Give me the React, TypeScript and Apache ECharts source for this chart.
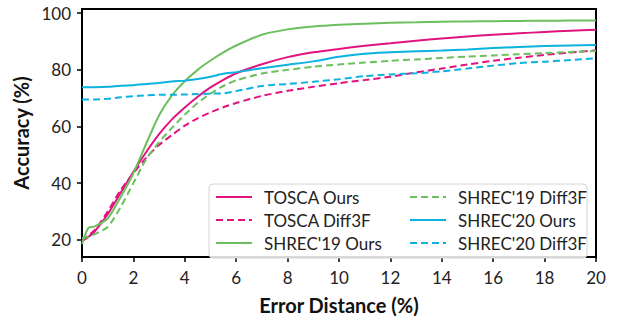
import React, { useEffect, useRef } from "react";
import * as echarts from "echarts";

const xs = [0, 0.25, 0.5, 1, 1.5, 2, 2.5, 3, 3.5, 4, 4.5, 5, 5.5, 6, 7, 8, 9, 10, 11, 12, 13, 14, 15, 16, 17, 18, 19, 20];

const toscaOurs = [19.5, 21, 23, 29, 36.5, 44, 51, 57.3, 62.5, 66.7, 70.5, 73.8, 76.5, 78.8, 82.0, 84.5, 86.2, 87.4, 88.5, 89.4, 90.3, 91.1, 91.8, 92.4, 92.9, 93.4, 93.8, 94.2];
const toscaDiff3F = [19.5, 21.5, 23.5, 30, 37.5, 43.5, 49, 53.5, 57, 60.3, 62.9, 65.0, 66.8, 68.3, 70.8, 72.6, 74.0, 75.3, 76.4, 77.6, 79.1, 80.5, 81.9, 83.2, 84.3, 85.3, 86.1, 86.9];
const shrec19Ours = [18.5, 24.2, 24.7, 27.5, 35, 43.5, 54, 64, 71, 76, 80, 83.3, 86.2, 88.6, 92.4, 94.3, 95.3, 95.9, 96.3, 96.6, 96.8, 97.0, 97.1, 97.2, 97.3, 97.35, 97.4, 97.45];
const shrec19Diff3F = [20.5, 21, 22, 24.5, 31.5, 40, 48.5, 54.5, 59.5, 64.2, 68.3, 71.6, 74.3, 76.3, 78.7, 80.0, 81.1, 81.9, 82.6, 83.2, 83.7, 84.2, 84.7, 85.1, 85.5, 85.9, 86.3, 86.7];
const shrec20Ours = [73.9, 73.9, 73.9, 74.0, 74.4, 74.6, 75.0, 75.4, 75.9, 76.2, 76.8, 77.6, 78.6, 79.2, 80.6, 81.8, 83.0, 84.6, 85.7, 86.2, 86.6, 86.8, 87.2, 87.7, 88.1, 88.4, 88.6, 88.8];
const shrec20Diff3F = [69.5, 69.5, 69.5, 69.8, 70.3, 70.7, 71.0, 71.2, 71.2, 71.3, 71.5, 71.6, 71.7, 72.5, 74.3, 75.0, 75.8, 76.7, 77.8, 78.4, 78.8, 79.5, 80.5, 81.5, 82.4, 82.9, 83.5, 84.1];

const yTicks = [20, 40, 60, 80, 100];

const MAGENTA = "#e0147f";
const GREEN = "#6cbf5e";
const CYAN = "#0cb2e0";
const FONT = "Lato";

const seriesDefs = [
  { name: "TOSCA Ours", values: toscaOurs, color: MAGENTA, type: "solid" },
  { name: "TOSCA Diff3F", values: toscaDiff3F, color: MAGENTA, type: "dashed" },
  { name: "SHREC'19 Ours", values: shrec19Ours, color: GREEN, type: "solid" },
  { name: "SHREC'19 Diff3F", values: shrec19Diff3F, color: GREEN, type: "dashed" },
  { name: "SHREC'20 Ours", values: shrec20Ours, color: CYAN, type: "solid" },
  { name: "SHREC'20 Diff3F", values: shrec20Diff3F, color: CYAN, type: "dashed" },
];

export default function App() {
  const ref = useRef<HTMLDivElement>(null);
  useEffect(() => {
    if (!ref.current) return;
    const chart = echarts.init(ref.current, null, { renderer: "svg" });
    const legendCommon = {
      orient: "vertical",
      padding: 0,
      itemWidth: 36,
      itemHeight: 14,
      itemGap: 5,
      selectedMode: false,
      itemStyle: { opacity: 0 },
      textStyle: { fontFamily: FONT, fontSize: 17, lineHeight: 18, color: "#222", padding: [0, 0, 0, 7] },
    };
    chart.setOption({
      animation: false,
      backgroundColor: "#fff",
      grid: {
        left: 82,
        right: 22,
        top: 9,
        bottom: 53,
        show: true,
        borderColor: "#000",
        borderWidth: 2,
      },
      xAxis: {
        type: "value",
        min: 0,
        max: 20,
        interval: 2,
        name: "Error Distance (%)",
        nameLocation: "middle",
        nameGap: 38,
        nameTextStyle: { fontFamily: FONT, fontSize: 20, fontWeight: "bold", color: "#111" },
        axisLine: { show: true, lineStyle: { color: "#000", width: 2 } },
        axisTick: { show: true, length: 5, lineStyle: { color: "#000", width: 1.5 } },
        axisLabel: { fontFamily: FONT, fontSize: 17, color: "#222", margin: 12 },
        splitLine: { show: false },
      },
      yAxis: {
        type: "value",
        min: 13.9,
        max: 101.5,
        name: "Accuracy (%)",
        nameLocation: "middle",
        nameGap: 38,
        nameTextStyle: { fontFamily: FONT, fontSize: 20, fontWeight: "bold", color: "#111" },
        axisLine: { show: true, lineStyle: { color: "#000", width: 2 } },
        axisTick: { show: true, length: 5, customValues: yTicks, lineStyle: { color: "#000", width: 1.5 } },
        axisLabel: { fontFamily: FONT, fontSize: 17, color: "#222", margin: 11, customValues: yTicks },
        splitLine: { show: false },
      },
      legend: [
        { ...legendCommon, left: 215, top: 188, data: seriesDefs.slice(0, 3).map((s) => s.name) },
        { ...legendCommon, left: 409, top: 188, data: seriesDefs.slice(3).map((s) => s.name) },
      ],
      graphic: [
        {
          type: "rect",
          z: 3,
          shape: { x: 209, y: 184, width: 378, height: 74, r: 4 },
          style: { fill: "rgba(255,255,255,0.85)", stroke: "#d4d4d4", lineWidth: 1 },
        },
      ],
      series: seriesDefs.map((s) => ({
        name: s.name,
        type: "line",
        data: xs.map((x, i) => [x, s.values[i]]),
        smooth: 0.25,
        showSymbol: false,
        symbol: "none",
        color: s.color,
        lineStyle: { color: s.color, width: 2, type: s.type === "dashed" ? [7, 4] : "solid" },
      })),
    });
    return () => chart.dispose();
  }, []);
  return <div ref={ref} style={{ position: "absolute", left: 0, top: 0, width: 618, height: 320 }} />;
}
